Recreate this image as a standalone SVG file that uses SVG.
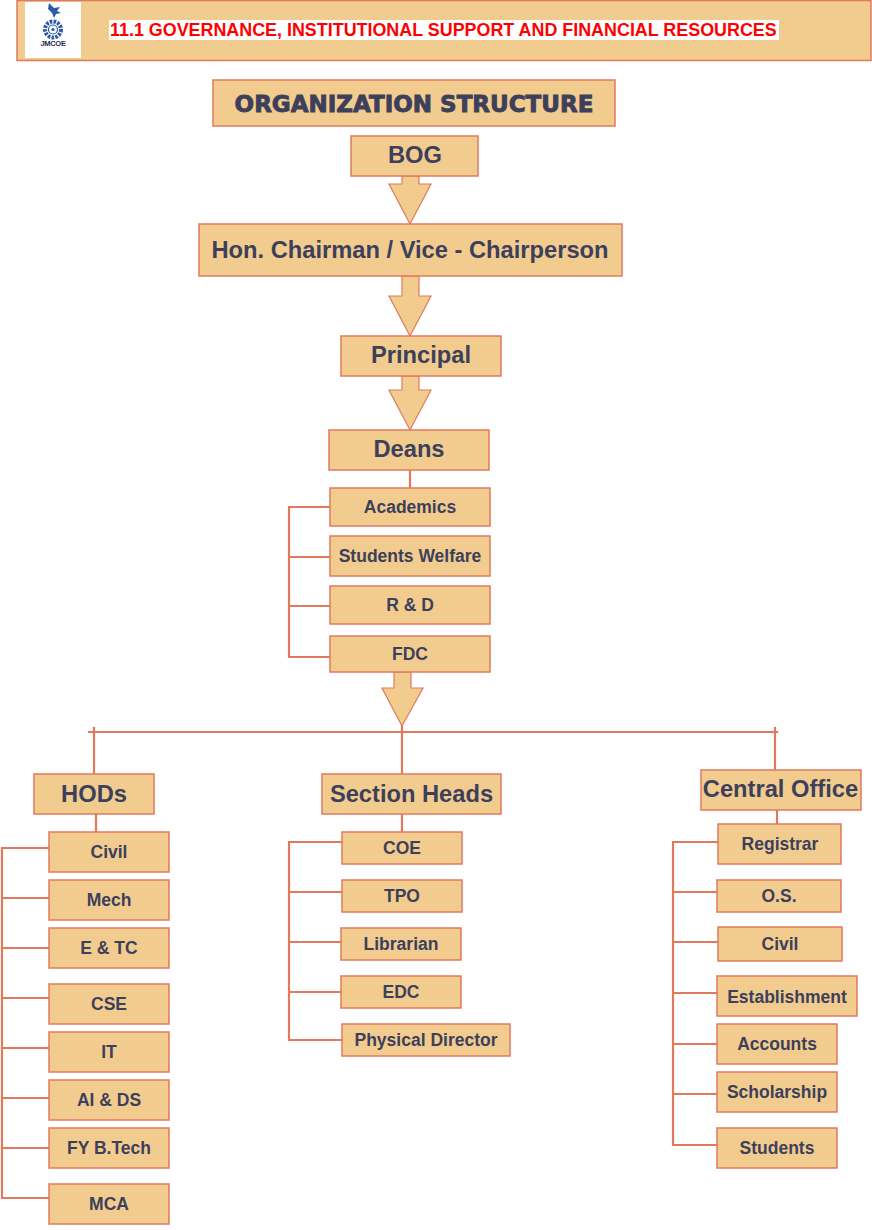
<svg xmlns="http://www.w3.org/2000/svg" width="872" height="1230" viewBox="0 0 872 1230">
<style>
.box{fill:#f2cc8f;stroke:#e07a5f;stroke-width:1.5}
.big{font-family:"Liberation Sans",Arial,sans-serif;font-weight:bold;font-size:23.7px;fill:#3d405b;text-anchor:middle}
.sm{font-family:"Liberation Sans",Arial,sans-serif;font-weight:bold;font-size:17.5px;fill:#3d405b;text-anchor:middle}
.ln{stroke:#e07a5f;stroke-width:2.2;fill:none;stroke-linecap:square}
.arr{fill:#f2cc8f;stroke:#e07a5f;stroke-width:1.2;stroke-linejoin:miter}
</style>
<rect width="872" height="1230" fill="#ffffff"/>
<g id="header">
<rect class="box" x="17" y="0.5" width="854" height="60"/>
<rect x="25" y="2" width="56" height="56" fill="#ffffff"/>
<g id="logo">
<path d="M49,3 L54,8 L60,7 L57,11 L61,13 L56,14 L54,18 L52,13 L48,9 Z" fill="#2b5aa8"/>
<circle cx="53" cy="29.5" r="8" fill="none" stroke="#2b5aa8" stroke-width="4" stroke-dasharray="2.6 1.2"/>
<circle cx="53" cy="29.5" r="4.5" fill="#ffffff" stroke="#2b5aa8" stroke-width="1.2"/>
<circle cx="53" cy="29.5" r="1.6" fill="#2b5aa8"/>
<text x="53" y="46" font-family="'Liberation Sans',Arial,sans-serif" font-weight="bold" font-size="7.5" fill="#1d2b5a" text-anchor="middle" letter-spacing="-0.3">JMCOE</text>
</g>
<rect x="109" y="20" width="670" height="20" fill="#ffffff"/>
<text x="110" y="36" font-family="'Liberation Sans',Arial,sans-serif" font-weight="bold" font-size="17.9" fill="#ff0000">11.1 GOVERNANCE, INSTITUTIONAL SUPPORT AND FINANCIAL RESOURCES</text>
</g>
<g id="title">
<rect class="box" x="213" y="80" width="402" height="46"/>
<text x="414" y="112" font-family="'DejaVu Sans',Verdana,sans-serif" font-weight="bold" font-size="23" fill="#3d405b" stroke="#3d405b" stroke-width="0.9" text-anchor="middle">ORGANIZATION STRUCTURE</text>
</g>
<g id="connectors">
<polygon class="arr" points="402,176 419,176 419,184 431,184 410,224 389,184 402,184"/>
<polygon class="arr" points="402,276 419,276 419,296 431,296 410,336 389,296 402,296"/>
<polygon class="arr" points="402,376 419,376 419,390 431,390 410,430 389,390 402,390"/>
<polygon class="arr" points="394,672 411,672 411,688 423,688 402,726 382,688 394,688"/>
<line class="ln" x1="410" y1="470" x2="410" y2="488"/>
<path class="ln" d="M330,507 H289 V657 H330 M289,557 H330 M289,606 H330"/>
<line class="ln" x1="89" y1="732" x2="777" y2="732"/>
<line class="ln" x1="94" y1="728" x2="94" y2="774"/>
<line class="ln" x1="402" y1="726" x2="402" y2="774"/>
<line class="ln" x1="775" y1="728" x2="775" y2="770"/>
<line class="ln" x1="96" y1="814" x2="96" y2="832"/>
<path class="ln" d="M49,848 H2 V1198 H49 M2,898 H49 M2,948 H49 M2,998 H49 M2,1048 H49 M2,1098 H49 M2,1148 H49"/>
<line class="ln" x1="402" y1="814" x2="402" y2="832"/>
<path class="ln" d="M342,842 H289 V1040 H342 M289,892 H342 M289,942 H341 M289,992 H341"/>
<line class="ln" x1="777" y1="810" x2="777" y2="824"/>
<path class="ln" d="M718,842 H673 V1145 H717 M673,892 H717 M673,942 H718 M673,993 H717 M673,1044 H717 M673,1094 H717"/>
</g>
<g id="bog"><rect class="box" x="351" y="136" width="127" height="40"/><text class="big" x="415" y="163">BOG</text></g>
<g id="chairman"><rect class="box" x="199" y="224" width="423" height="52"/><text class="big" x="410" y="258">Hon. Chairman / Vice - Chairperson</text></g>
<g id="principal"><rect class="box" x="341" y="336" width="160" height="40"/><text class="big" x="421" y="363">Principal</text></g>
<g id="deans"><rect class="box" x="329" y="430" width="160" height="40"/><text class="big" x="409" y="457">Deans</text></g>
<g id="academics"><rect class="box" x="330" y="488" width="160" height="38"/><text class="sm" x="410" y="513">Academics</text></g>
<g id="students-welfare"><rect class="box" x="330" y="536" width="160" height="40"/><text class="sm" x="410" y="562">Students Welfare</text></g>
<g id="rnd"><rect class="box" x="330" y="586" width="160" height="38"/><text class="sm" x="410" y="611">R &amp; D</text></g>
<g id="fdc"><rect class="box" x="330" y="636" width="160" height="36"/><text class="sm" x="410" y="660">FDC</text></g>
<g id="hods"><rect class="box" x="34" y="774" width="120" height="40"/><text class="big" x="94" y="802">HODs</text></g>
<g id="hod-civil"><rect class="box" x="49" y="832" width="120" height="40"/><text class="sm" x="109" y="858">Civil</text></g>
<g id="hod-mech"><rect class="box" x="49" y="880" width="120" height="40"/><text class="sm" x="109" y="906">Mech</text></g>
<g id="hod-entc"><rect class="box" x="49" y="928" width="120" height="40"/><text class="sm" x="109" y="954">E &amp; TC</text></g>
<g id="hod-cse"><rect class="box" x="49" y="984" width="120" height="40"/><text class="sm" x="109" y="1010">CSE</text></g>
<g id="hod-it"><rect class="box" x="49" y="1032" width="120" height="40"/><text class="sm" x="109" y="1058">IT</text></g>
<g id="hod-aids"><rect class="box" x="49" y="1080" width="120" height="40"/><text class="sm" x="109" y="1106">AI &amp; DS</text></g>
<g id="hod-fy"><rect class="box" x="49" y="1128" width="120" height="40"/><text class="sm" x="109" y="1154">FY B.Tech</text></g>
<g id="hod-mca"><rect class="box" x="49" y="1184" width="120" height="40"/><text class="sm" x="109" y="1210">MCA</text></g>
<g id="section-heads"><rect class="box" x="322" y="774" width="179" height="40"/><text class="big" x="411.5" y="802">Section Heads</text></g>
<g id="coe"><rect class="box" x="342" y="832" width="120" height="32"/><text class="sm" x="402" y="854">COE</text></g>
<g id="tpo"><rect class="box" x="342" y="880" width="120" height="32"/><text class="sm" x="402" y="902">TPO</text></g>
<g id="librarian"><rect class="box" x="341" y="928" width="120" height="32"/><text class="sm" x="401" y="950">Librarian</text></g>
<g id="edc"><rect class="box" x="341" y="976" width="120" height="32"/><text class="sm" x="401" y="998">EDC</text></g>
<g id="physical-director"><rect class="box" x="342" y="1024" width="168" height="32"/><text class="sm" x="426" y="1046">Physical Director</text></g>
<g id="central-office"><rect class="box" x="701" y="770" width="160" height="40"/><text class="big" x="780.5" y="797">Central Office</text></g>
<g id="registrar"><rect class="box" x="718" y="824" width="123" height="40"/><text class="sm" x="780" y="850">Registrar</text></g>
<g id="os"><rect class="box" x="717" y="880" width="124" height="32"/><text class="sm" x="779" y="902">O.S.</text></g>
<g id="co-civil"><rect class="box" x="718" y="927" width="124" height="34"/><text class="sm" x="780" y="950">Civil</text></g>
<g id="establishment"><rect class="box" x="717" y="976" width="140" height="40"/><text class="sm" x="787" y="1003">Establishment</text></g>
<g id="accounts"><rect class="box" x="717" y="1024" width="120" height="40"/><text class="sm" x="777" y="1050">Accounts</text></g>
<g id="scholarship"><rect class="box" x="717" y="1072" width="120" height="40"/><text class="sm" x="777" y="1098">Scholarship</text></g>
<g id="students"><rect class="box" x="717" y="1128" width="120" height="40"/><text class="sm" x="777" y="1154">Students</text></g>
</svg>
